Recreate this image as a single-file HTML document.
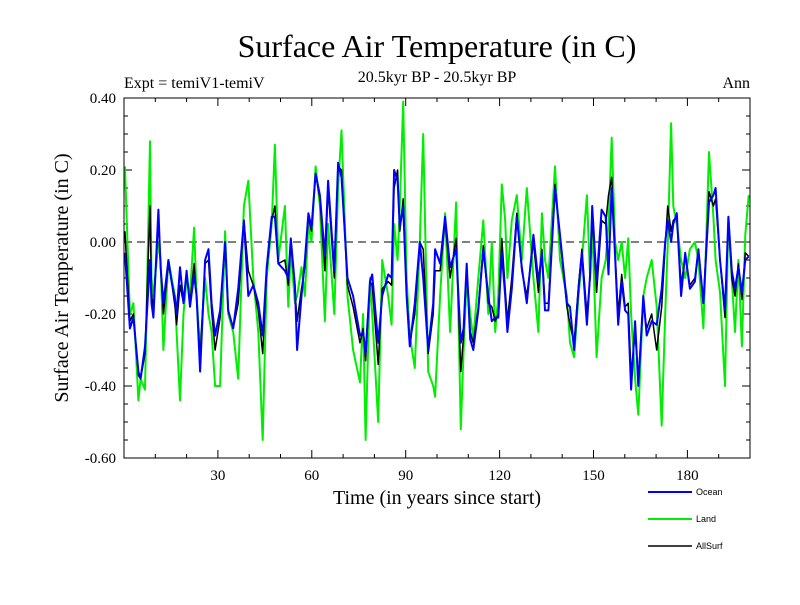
<!DOCTYPE html>
<html><head><meta charset="utf-8"><style>
body{margin:0;background:#fff}
svg text{font-family:"Liberation Serif",serif}
</style></head><body>
<svg id="chart" width="800" height="600" xmlns="http://www.w3.org/2000/svg">
<rect width="800" height="600" fill="#fff"/>
<text x="437" y="57" font-size="32" text-anchor="middle">Surface Air Temperature (in C)</text>
<text x="124" y="88" font-size="16">Expt = temiV1-temiV</text>
<text x="437" y="82" font-size="16" text-anchor="middle">20.5kyr BP - 20.5kyr BP</text>
<text x="750" y="88" font-size="16" text-anchor="end">Ann</text>
<text transform="translate(68,278) rotate(-90)" font-size="20" text-anchor="middle">Surface Air Temperature (in C)</text>
<text x="437" y="504" font-size="20" text-anchor="middle">Time (in years since start)</text>
<g id="axes"></g>
<g id="series"></g>
<rect x="124" y="98" width="626" height="360" fill="none" stroke="#000" stroke-width="1"/>
<g font-family="Liberation Sans" font-size="9">
<g><line x1="648" y1="492" x2="692" y2="492" stroke="#0000ff" stroke-width="2"/><text x="696" y="495" style="font-family:'Liberation Sans',sans-serif">Ocean</text></g>
<g><line x1="648" y1="519" x2="692" y2="519" stroke="#00ee00" stroke-width="2"/><text x="696" y="522" style="font-family:'Liberation Sans',sans-serif">Land</text></g>
<g><line x1="648" y1="546" x2="692" y2="546" stroke="#000" stroke-width="1.5"/><text x="696" y="549" style="font-family:'Liberation Sans',sans-serif">AllSurf</text></g>
</g>
</svg>
<script>
const years=[0.3,1.9,3,4.6,5.3,6.7,8.3,8.8,9.4,11,11.7,12.6,14.2,15.2,16.3,16.8,17.9,19,20,21.1,22.4,23.2,24.3,25.9,27,28,29.1,30.7,32.3,33.3,34.9,36.5,38.3,39.7,41.3,42.9,44.3,45.6,47.2,48.2,49.3,51.4,52.5,53.3,54.6,55.3,56.7,57.8,58.9,59.9,61.2,62.6,64.2,65.2,67.2,68.4,69.5,71.4,73.2,75.4,76.4,77.2,78.6,79.3,81.2,82.5,84.4,85.5,86.3,87.4,88.1,89.2,90.3,91.3,92.9,94.5,95.6,97.2,98.8,99.4,101,102.6,104.2,106.1,107.6,108.5,109.5,110.6,111.6,113.2,114.8,116.4,117.5,118.6,119.6,120.7,121.8,122.5,123.9,125.5,127.1,128.7,130.8,132.4,133.5,134.5,135.6,137.7,139.3,141.5,142.5,143.8,145.2,146.3,147.9,148.9,149.6,151,152.6,153.9,154.8,155.8,156.9,157.9,159,160.1,161.1,162,163.3,164.3,165.9,167,168.6,170.2,171.8,172.9,173.7,174.8,175.5,176.6,178,179.3,180.8,182.4,183.5,185.1,186.9,188.3,189,190.4,192,193.1,194.2,195.2,196.3,197.4,198.5,199.6];
const ocean=[-0.03,-0.24,-0.21,-0.36,-0.38,-0.29,-0.05,-0.17,-0.21,0.09,-0.07,-0.17,-0.05,-0.11,-0.16,-0.2,-0.07,-0.17,-0.08,-0.18,-0.09,-0.15,-0.36,-0.05,-0.02,-0.17,-0.26,-0.19,0.0,-0.19,-0.24,-0.13,0.06,-0.15,-0.12,-0.17,-0.26,-0.07,0.07,0.07,-0.06,-0.08,-0.10,0.01,-0.12,-0.30,-0.15,-0.05,0.08,0.04,0.19,0.13,-0.04,0.17,-0.08,0.22,0.18,-0.10,-0.15,-0.26,-0.25,-0.31,-0.11,-0.09,-0.28,-0.15,-0.09,-0.10,0.20,0.17,0.04,0.10,-0.15,-0.29,-0.17,0.0,-0.10,-0.30,-0.17,-0.02,-0.06,0.07,-0.07,-0.02,-0.28,-0.24,-0.06,-0.27,-0.30,-0.19,-0.02,-0.15,-0.22,-0.21,-0.21,-0.03,-0.15,-0.25,-0.13,0.07,-0.07,-0.17,0.02,-0.11,-0.03,-0.19,-0.19,0.15,0.02,-0.17,-0.18,-0.30,-0.13,-0.03,-0.23,-0.09,0.10,-0.11,0.09,0.07,-0.09,0.15,-0.04,-0.23,-0.11,-0.19,-0.20,-0.41,-0.22,-0.40,-0.15,-0.26,-0.22,-0.23,-0.13,0.0,0.06,0.0,0.05,0.08,-0.15,-0.03,-0.13,-0.11,-0.02,-0.17,0.11,0.13,0.15,-0.05,-0.19,0.07,-0.08,-0.13,-0.07,-0.14,-0.05,-0.04];
const land=[0.21,-0.20,-0.17,-0.44,-0.38,-0.41,0.28,-0.10,-0.15,0.0,-0.05,-0.30,-0.05,-0.10,-0.15,-0.25,-0.44,-0.20,-0.10,-0.15,0.04,-0.15,-0.30,-0.10,-0.20,-0.25,-0.40,-0.40,0.03,-0.20,-0.25,-0.38,0.10,0.17,-0.10,-0.25,-0.55,-0.10,0.05,0.27,-0.05,0.10,-0.18,-0.02,-0.17,-0.15,-0.07,-0.15,0.05,0.0,0.21,0.10,-0.22,0.05,-0.20,0.15,0.31,-0.15,-0.30,-0.39,-0.20,-0.55,-0.10,-0.20,-0.50,-0.05,-0.15,-0.23,0.05,-0.05,0.10,0.39,-0.10,-0.26,-0.35,0.0,0.30,-0.36,-0.40,-0.43,-0.15,0.08,-0.25,0.11,-0.52,-0.30,-0.10,-0.20,-0.27,-0.10,0.06,-0.20,0.0,-0.25,-0.15,0.16,0.06,-0.10,0.06,0.13,-0.05,0.15,-0.10,-0.25,0.08,-0.05,-0.10,0.21,-0.05,-0.15,-0.28,-0.32,-0.15,-0.05,0.13,-0.10,0.05,-0.32,-0.10,-0.05,0.05,0.29,0.0,-0.05,0.0,-0.10,0.01,-0.20,-0.38,-0.48,-0.15,-0.10,-0.05,-0.18,-0.51,-0.20,-0.01,0.33,0.10,0.05,-0.05,-0.10,-0.02,0.0,-0.05,-0.24,0.25,0.07,-0.05,-0.14,-0.40,0.07,-0.10,-0.25,-0.05,-0.29,0.02,0.13];
const allsurf=[0.03,-0.22,-0.20,-0.37,-0.38,-0.31,0.10,-0.14,-0.19,0.06,-0.07,-0.20,-0.06,-0.11,-0.18,-0.23,-0.12,-0.17,-0.09,-0.17,-0.06,-0.16,-0.32,-0.06,-0.05,-0.19,-0.30,-0.21,0.0,-0.19,-0.24,-0.17,0.06,-0.08,-0.12,-0.19,-0.31,-0.08,0.06,0.10,-0.06,-0.05,-0.12,0.0,-0.13,-0.22,-0.13,-0.07,0.07,0.03,0.19,0.12,-0.08,0.15,-0.10,0.21,0.20,-0.12,-0.18,-0.28,-0.24,-0.33,-0.11,-0.12,-0.34,-0.13,-0.11,-0.12,0.15,0.20,0.03,0.12,-0.14,-0.28,-0.20,0.0,-0.02,-0.31,-0.20,-0.08,-0.08,0.06,-0.10,0.01,-0.36,-0.26,-0.07,-0.25,-0.28,-0.18,-0.01,-0.17,-0.18,-0.22,-0.20,0.01,-0.13,-0.22,-0.10,0.08,-0.08,-0.15,0.0,-0.14,-0.02,-0.17,-0.17,0.16,0.01,-0.18,-0.23,-0.28,-0.12,-0.02,-0.20,-0.10,0.08,-0.14,0.06,0.05,0.13,0.18,-0.03,-0.20,-0.09,-0.18,-0.17,-0.37,-0.25,-0.38,-0.17,-0.24,-0.20,-0.30,-0.18,-0.01,0.10,0.03,0.06,0.07,-0.12,-0.04,-0.12,-0.10,-0.02,-0.17,0.14,0.10,0.12,-0.05,-0.21,0.06,-0.10,-0.15,-0.06,-0.16,-0.03,-0.04];
const xTicks=[30,60,90,120,150,180];
const yTicks=[0.40,0.20,0.00,-0.20,-0.40,-0.60];

const L=124,R=750,T=98,B=458,XMIN=0,XMAX=200,YMIN=-0.6,YMAX=0.4;
function xs(t){return L+(t-XMIN)/(XMAX-XMIN)*(R-L);}
function ys(v){return B-(v-YMIN)/(YMAX-YMIN)*(B-T);}
const NS='http://www.w3.org/2000/svg';
const axes=document.getElementById('axes');
function mk(tag,attrs,parent){const e=document.createElementNS(NS,tag);for(const k in attrs)e.setAttribute(k,attrs[k]);parent.appendChild(e);return e;}
for(let t=10;t<200;t+=10){
  const major=xTicks.indexOf(t)>=0;const len=major?8:4;
  const a=mk('line',{x1:xs(t),x2:xs(t),y1:B,y2:B-len,stroke:'#000'},axes);
  
  
  const b=mk('line',{x1:xs(t),x2:xs(t),y1:T,y2:T+len,stroke:'#000'},axes);
  
  
}
xTicks.forEach(t=>{
  const e=mk('text',{x:xs(t),y:B+22,'font-size':15,'text-anchor':'middle'},axes);e.textContent=String(t);
  
  
});
for(let i=0;i<=20;i++){
  const v=YMIN+i*0.05;const major=i%4===0;const len=major?8:4;
  const a=mk('line',{x1:L,x2:L+len,y1:ys(v),y2:ys(v),stroke:'#000'},axes);
  
  
  const b=mk('line',{x1:R,x2:R-len,y1:ys(v),y2:ys(v),stroke:'#000'},axes);
  
  
}
yTicks.forEach(v=>{
  const e=mk('text',{x:L-8,y:ys(v)+5,'font-size':15,'text-anchor':'end'},axes);e.textContent=v.toFixed(2);
  
  
});
const zl=mk('line',{x1:L,x2:R,y1:ys(0),y2:ys(0),stroke:'#000','stroke-dasharray':'8,5'},axes);


const sg=document.getElementById('series');
function draw(vals,color,w,name){
  const d=years.map((t,i)=>(i?'L':'M')+xs(t).toFixed(1)+','+ys(vals[i]).toFixed(1)).join(' ');
  const p=mk('path',{d:d,fill:'none',stroke:color,'stroke-width':w,'stroke-linejoin':'round'},sg);
  
  
}
draw(land,'#00ee00',2,'land-line');
draw(allsurf,'#000','1.5','allsurf-line');
draw(ocean,'#0000ff',2,'ocean-line');
</script>
</body></html>
